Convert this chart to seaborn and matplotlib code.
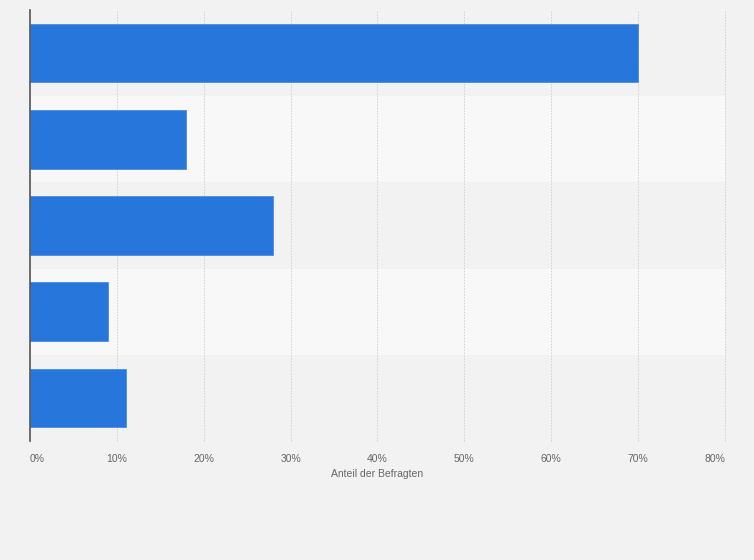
import matplotlib
matplotlib.use("Agg")
import matplotlib.pyplot as plt
import seaborn as sns
import pandas as pd

# Daten (Kategorienamen sind im Original nicht beschriftet)
categories = ["Kategorie 1", "Kategorie 2", "Kategorie 3", "Kategorie 4", "Kategorie 5"]
values = [70, 18, 28, 9, 11]
tick_values = [0, 10, 20, 30, 40, 50, 60, 70, 80]
tick_labels = ["0%", "10%", "20%", "30%", "40%", "50%", "60%", "70%", "80%"]

df = pd.DataFrame({"Kategorie": categories, "Wert": values})

sns.set_theme(style="white")
plt.rcParams["font.family"] = ["Liberation Sans", "DejaVu Sans"]

fig = plt.figure(figsize=(7.54, 5.6), dpi=100)
fig.patch.set_facecolor("#f2f2f2")
ax = fig.add_axes([30 / 754, (560 - 441) / 560, 695 / 754, 431 / 560])
ax.set_facecolor("#f2f2f2")

# abwechselnde Hintergrundstreifen
for i in range(len(categories)):
    ax.axhspan(i - 0.5, i + 0.5, color="#f2f2f2" if i % 2 == 0 else "#f8f8f8", zorder=0, lw=0)

sns.barplot(data=df, x="Wert", y="Kategorie", orient="h", color="#2676db",
            saturation=1, width=0.68, ax=ax, zorder=3, edgecolor="#4a8ce4", linewidth=0.6)

ax.set_xlim(0, 80)
ax.set_ylim(len(categories) - 0.5, -0.5)
ax.set_xticks(tick_values)
ax.set_xticklabels(tick_labels, fontsize=7.5, color="#666666")
labels = ax.get_xticklabels()
labels[0].set_horizontalalignment("left")
labels[-1].set_horizontalalignment("right")
ax.tick_params(axis="x", length=0, pad=9)
ax.set_yticks([])
ax.set_ylabel("")
ax.set_xlabel("Anteil der Befragten", fontsize=7.5, color="#666666", labelpad=4)

ax.grid(axis="x", color="#d0d0d0", linestyle=(0, (1.5, 1.5)), linewidth=0.7, zorder=1)
for gl in ax.get_xgridlines():
    gl.set_clip_on(False)
ax.set_axisbelow(False)
for s in ["top", "right", "bottom"]:
    ax.spines[s].set_visible(False)
ax.spines["left"].set_color("#555555")
ax.spines["left"].set_linewidth(1.2)
ax.spines["left"].set_zorder(5)

fig.savefig("out.png", dpi=100, facecolor=fig.get_facecolor())
